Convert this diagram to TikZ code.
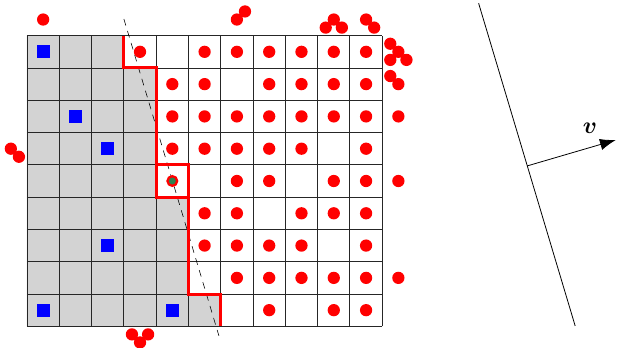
\documentclass[tikz,border=0pt]{standalone}
\usepackage{amsmath}
\usetikzlibrary{arrows.meta,calc}
\definecolor{cellgray}{RGB}{211,211,211}
\definecolor{dotgreen}{RGB}{46,130,80}
\tikzset{
  reddot/.style={circle,fill=red,inner sep=0pt,minimum size=0.38cm},
  greendot/.style={circle,fill=dotgreen,draw=red,line width=2pt,inner sep=0pt,minimum size=0.3cm},
  bluesq/.style={rectangle,fill=blue,inner sep=0pt,minimum size=0.4cm},
  gridline/.style={black!85,line width=0.8pt},
  redpath/.style={red,line width=2.6pt,line join=miter},
  dashline/.style={black,line width=0.5pt,dash pattern=on 6pt off 5pt},
  plainline/.style={black,line width=0.7pt}
}
\begin{document}
\begin{tikzpicture}[x=1cm,y=1cm]
\useasboundingbox (-0.836,-0.669) rectangle (18.27,10.105);
% gray region
\fill[cellgray] (0,0) -- (0,9) -- (3,9) -- (3,8) -- (4,8) -- (4,4) -- (5,4) -- (5,1) -- (6,1) -- (6,0) -- cycle;
% grid
\draw[gridline] (0,0) grid (11,9);
% dashed separating line
\coordinate (d1) at (3.0,9.517);
\coordinate (d2) at (5.944,-0.297);
\draw[dashline] (d1) -- (d2);
% red boundary
\draw[redpath] (3,9) -- (3,8) -- (4,8) -- (4,4) -- (5,4) -- (5,1) -- (6,1) -- (6,0);
\draw[redpath] (4,4) rectangle (5,5);
% red dots inside grid (column/row from top)
\foreach \c/\r in {3/0,5/0,6/0,7/0,8/0,9/0,10/0,
                   4/1,5/1,7/1,8/1,9/1,10/1,
                   4/2,5/2,6/2,7/2,8/2,9/2,10/2,11/2,
                   4/3,5/3,6/3,7/3,8/3,10/3,
                   6/4,7/4,9/4,10/4,11/4,
                   5/5,6/5,8/5,9/5,10/5,
                   5/6,6/6,7/6,8/6,10/6,
                   6/7,7/7,8/7,9/7,10/7,11/7,
                   7/8,9/8,10/8}
  \node[reddot] (d-\c-\r) at (\c+0.5,8.5-\r) {};
% red dots outside the grid
\foreach \c/\r [count=\i] in {0/-1, -1/3, -0.75/3.25, 6/-1, 6.25/-1.25,
                   8.75/-0.75, 9/-1, 9.25/-0.75, 10/-1, 10.25/-0.75,
                   10.75/-0.25, 11/0, 10.75/0.25, 11.25/0.25,
                   10.75/0.75, 11/1, 2.75/8.75, 3.25/8.75, 3/9}
  \node[reddot] (o\i) at (\c+0.5,8.5-\r) {};
% green point
\node[greendot] (g) at (4.5,4.5) {};
% blue squares
\foreach \c/\r in {0/0,1/2,2/3,2/6,0/8,4/8}
  \node[bluesq] (b-\c-\r) at (\c+0.5,8.5-\r) {};
% right part: line and normal vector
\coordinate (L1) at (13.985,10.003);
\coordinate (L2) at (16.975,0.012);
\draw[plainline] (L1) -- (L2);
\coordinate (p) at ($(L1)!0.504!(L2)$);
\coordinate (q) at (18.235,5.771);
\draw[plainline,-{Latex[length=14pt,width=10pt]}] (p) -- (q);
\node (v) at (17.43,6.145) {\fontsize{22}{26}\selectfont $\boldsymbol{v}$};
\end{tikzpicture}
\end{document}
